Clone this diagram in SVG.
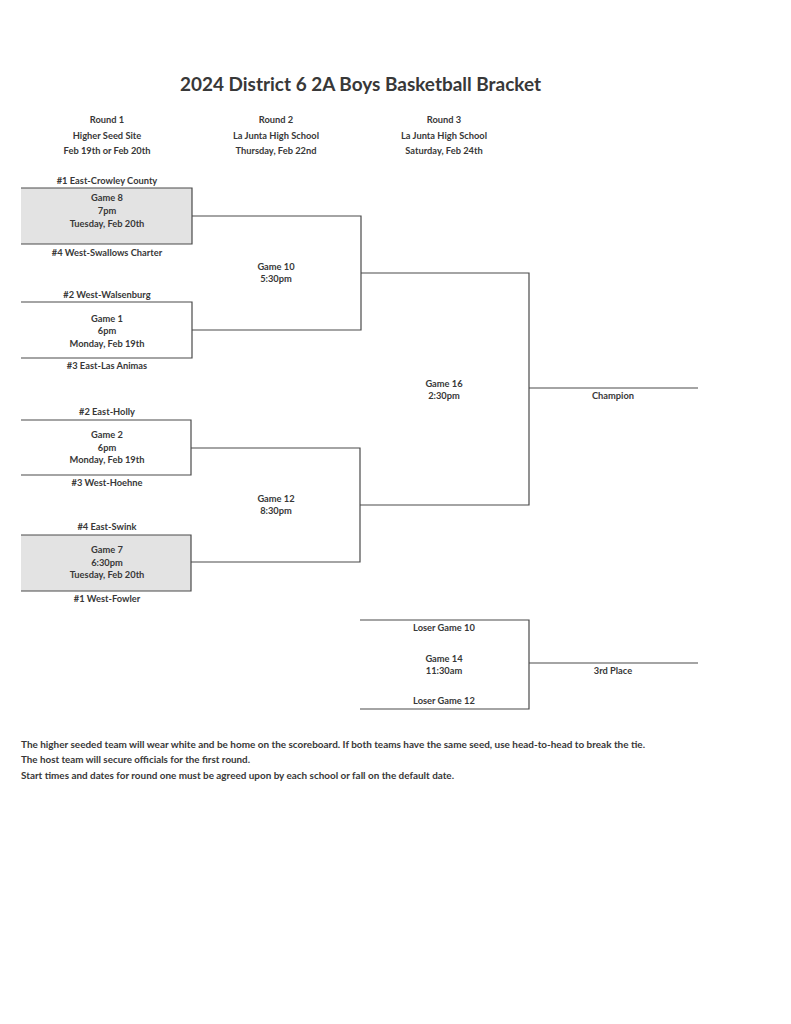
<svg xmlns="http://www.w3.org/2000/svg" width="791" height="1024" viewBox="0 0 791 1024">
<style>
text{font-family:Lato,"Open Sans","Liberation Sans",sans-serif;font-weight:bold;fill:#383838;font-size:9.3px;text-anchor:middle}
.title{font-size:18.5px}
.note{text-anchor:start;font-size:9.3px}
.ln{stroke:#4a4a4a;stroke-width:1.2;fill:none}
.shade{fill:#e3e3e3;stroke:none}
</style>
<rect width="791" height="1024" fill="#ffffff"/>
<text class="title" x="360.5" y="91" textLength="361" lengthAdjust="spacingAndGlyphs">2024 District 6 2A Boys Basketball Bracket</text>
<g id="headers">
<text x="107" y="123">Round 1</text>
<text x="107" y="139">Higher Seed Site</text>
<text x="107" y="154">Feb 19th or Feb 20th</text>
<text x="276" y="123">Round 2</text>
<text x="276" y="139">La Junta High School</text>
<text x="276" y="154">Thursday, Feb 22nd</text>
<text x="444" y="123">Round 3</text>
<text x="444" y="139">La Junta High School</text>
<text x="444" y="154">Saturday, Feb 24th</text>
</g>
<g id="game8">
<rect class="shade" x="21" y="188" width="171" height="56"/>
<path class="ln" d="M21 188H192V244H21"/>
<text x="107" y="184">#1 East-Crowley County</text>
<text x="107" y="201">Game 8</text>
<text x="107" y="214">7pm</text>
<text x="107" y="227">Tuesday, Feb 20th</text>
<text x="107" y="256">#4 West-Swallows Charter</text>
</g>
<g id="game1">
<path class="ln" d="M21 302H192V358H21"/>
<text x="107" y="298">#2 West-Walsenburg</text>
<text x="107" y="322">Game 1</text>
<text x="107" y="334">6pm</text>
<text x="107" y="347">Monday, Feb 19th</text>
<text x="107" y="369">#3 East-Las Animas</text>
</g>
<g id="game2">
<path class="ln" d="M21 420H191V475H21"/>
<text x="107" y="415">#2 East-Holly</text>
<text x="107" y="438">Game 2</text>
<text x="107" y="451">6pm</text>
<text x="107" y="463">Monday, Feb 19th</text>
<text x="107" y="486">#3 West-Hoehne</text>
</g>
<g id="game7">
<rect class="shade" x="21" y="535" width="170" height="56"/>
<path class="ln" d="M21 535H191V591H21"/>
<text x="107" y="530">#4 East-Swink</text>
<text x="107" y="553">Game 7</text>
<text x="107" y="566">6:30pm</text>
<text x="107" y="578">Tuesday, Feb 20th</text>
<text x="107" y="602">#1 West-Fowler</text>
</g>
<g id="game10">
<text x="276" y="270">Game 10</text>
<text x="276" y="282">5:30pm</text>
</g>
<g id="game12">
<text x="276" y="502">Game 12</text>
<text x="276" y="514">8:30pm</text>
</g>
<g id="game16">
<text x="444" y="387">Game 16</text>
<text x="444" y="399">2:30pm</text>
</g>
<g id="champion">
<text x="613" y="399">Champion</text>
</g>
<g id="game14">
<path class="ln" d="M360 620H529V709H360"/>
<text x="444" y="631">Loser Game 10</text>
<text x="444" y="662">Game 14</text>
<text x="444" y="674">11:30am</text>
<text x="444" y="704">Loser Game 12</text>
</g>
<g id="third">
<text x="613" y="674">3rd Place</text>
</g>
<g id="connectors">
<path class="ln" d="M192 216H361V330H192"/>
<path class="ln" d="M191 448H360V562H191"/>
<path class="ln" d="M361 273H529V505H360"/>
<path class="ln" d="M529 388H698"/>
<path class="ln" d="M529 663H698"/>
</g>
<g id="notes">
<text class="note" x="21" y="748" textLength="624" lengthAdjust="spacingAndGlyphs">The higher seeded team will wear white and be home on the scoreboard. If both teams have the same seed, use head-to-head to break the tie.</text>
<text class="note" x="21" y="763" textLength="229" lengthAdjust="spacingAndGlyphs">The host team will secure officials for the first round.</text>
<text class="note" x="21" y="779" textLength="433" lengthAdjust="spacingAndGlyphs">Start times and dates for round one must be agreed upon by each school or fall on the default date.</text>
</g>
</svg>
